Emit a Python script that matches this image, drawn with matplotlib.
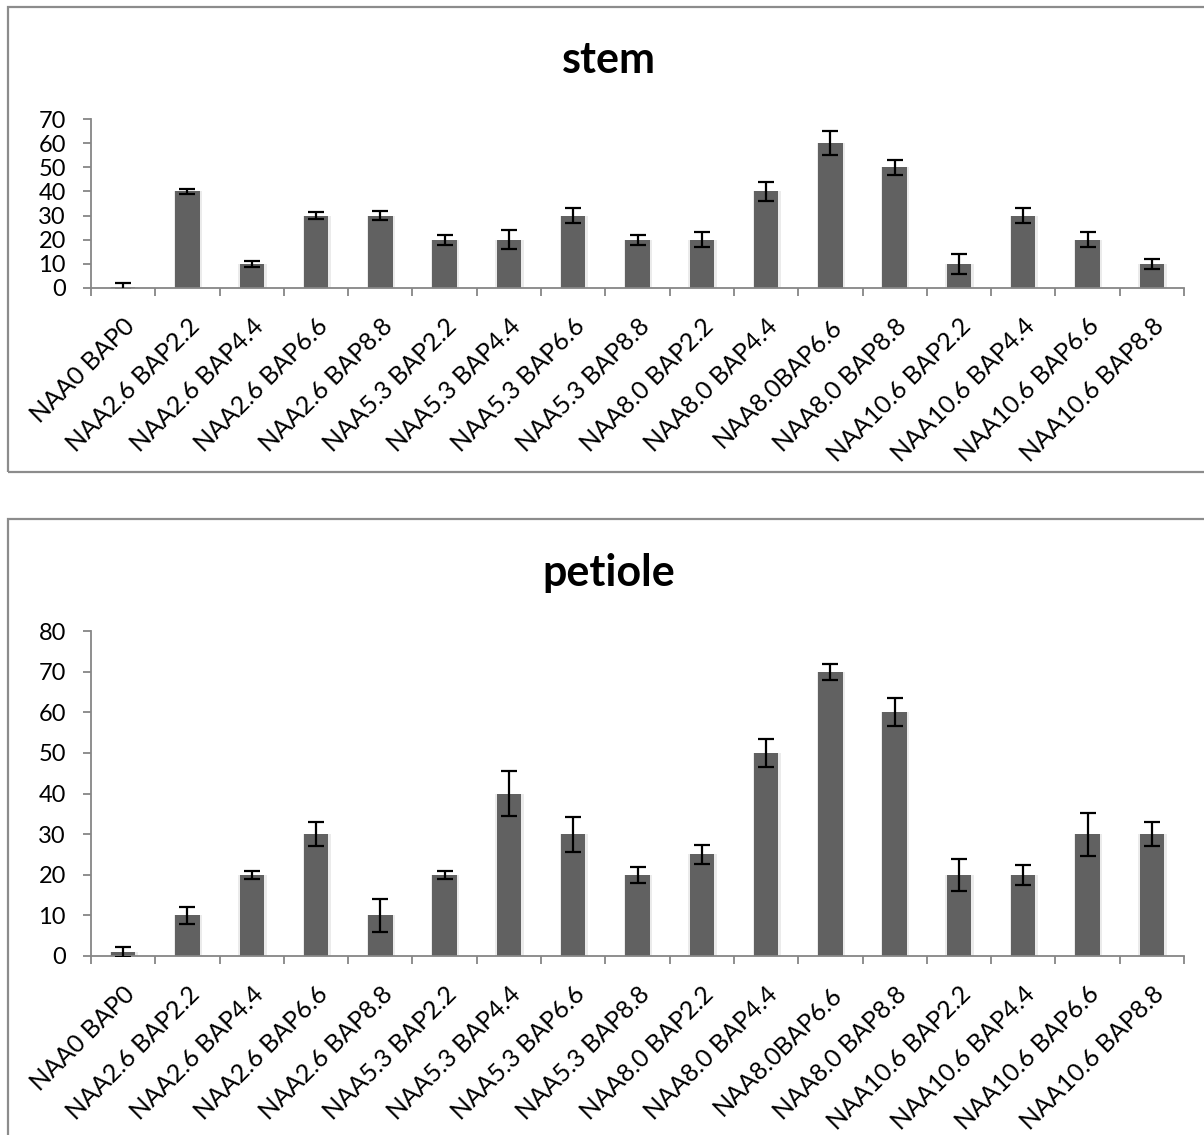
import matplotlib
matplotlib.use("Agg")
import matplotlib.pyplot as plt
from matplotlib.patches import Rectangle
import numpy as np

plt.rcParams['font.family'] = ['Lato', 'DejaVu Sans']

labels = ["NAA0 BAP0", "NAA2.6 BAP2.2", "NAA2.6 BAP4.4", "NAA2.6 BAP6.6", "NAA2.6 BAP8.8",
          "NAA5.3 BAP2.2", "NAA5.3 BAP4.4", "NAA5.3 BAP6.6", "NAA5.3 BAP8.8",
          "NAA8.0 BAP2.2", "NAA8.0 BAP4.4", "NAA8.0BAP6.6", "NAA8.0 BAP8.8",
          "NAA10.6 BAP2.2", "NAA10.6 BAP4.4", "NAA10.6 BAP6.6", "NAA10.6 BAP8.8"]

stem = [0.5, 40, 10, 30, 30, 20, 20, 30, 20, 20, 40, 60, 50, 10, 30, 20, 10]
stem_err = [1.5, 1, 1.2, 1.3, 1.7, 2, 4, 3, 2, 3, 4, 5, 3, 4, 3, 3, 2]

petiole = [1, 10, 20, 30, 10, 20, 40, 30, 20, 25, 50, 70, 60, 20, 20, 30, 30]
petiole_err = [1.2, 2, 1, 3, 4, 1, 5.5, 4.3, 2, 2.3, 3.5, 2, 3.5, 4, 2.5, 5.3, 3]

W, H = 1204, 1135
fig = plt.figure(figsize=(W / 100, H / 100), dpi=100)

gray = "#868686"

# chart frames
fig.patches.append(Rectangle((8 / W, 1 - 472 / H), 1.0, (472 - 7) / H, transform=fig.transFigure,
                             fill=False, edgecolor="#8c8c8c", linewidth=1.6))
fig.patches.append(Rectangle((8 / W, -0.05), 1.0, 1 - 519 / H + 0.05, transform=fig.transFigure,
                             fill=False, edgecolor="#8c8c8c", linewidth=1.6))


def draw(ax, vals, errs, ymax, step):
    x = np.arange(len(vals)) + 0.5
    # soft shadow behind bars
    ax.bar(x + 0.01, vals, width=0.44, color="#ebebeb", zorder=1)
    ax.bar(x, vals, width=0.38, color="#616161", zorder=2)
    ax.errorbar(x, vals, yerr=errs, fmt="none", ecolor="black", elinewidth=1.6,
                capsize=5.5, capthick=1.6, zorder=3)
    ax.set_xlim(0, len(vals))
    ax.set_ylim(0, ymax)
    ax.set_yticks(np.arange(0, ymax + 1, step))
    ax.set_xticks(np.arange(0, len(vals) + 1))
    ax.set_xticklabels([])
    ax.set_xticks(x, minor=True)
    ax.set_xticklabels(labels, minor=True, rotation=45, ha="right",
                       rotation_mode="anchor", fontsize=18)
    ax.tick_params(axis="x", which="minor", length=0, pad=19)
    ax.tick_params(axis="x", which="major", length=6, width=1.3, color=gray)
    ax.tick_params(axis="y", length=6, width=1.3, color=gray, labelsize=17, pad=12)
    for s in ["top", "right"]:
        ax.spines[s].set_visible(False)
    for s in ["left", "bottom"]:
        ax.spines[s].set_color(gray)
        ax.spines[s].set_linewidth(1.3)


ax1 = fig.add_axes([91 / W, 1 - 288 / H, 1093 / W, 169 / H])
draw(ax1, stem, stem_err, 70, 10)
fig.text(609 / W, 1 - 60 / H, "stem", ha="center", va="center", fontsize=31, fontweight="bold")

ax2 = fig.add_axes([91 / W, 1 - 956 / H, 1093 / W, 325 / H])
draw(ax2, petiole, petiole_err, 80, 10)
fig.text(609 / W, 1 - 573 / H, "petiole", ha="center", va="center", fontsize=31, fontweight="bold")

fig.savefig("out.png", dpi=100)
